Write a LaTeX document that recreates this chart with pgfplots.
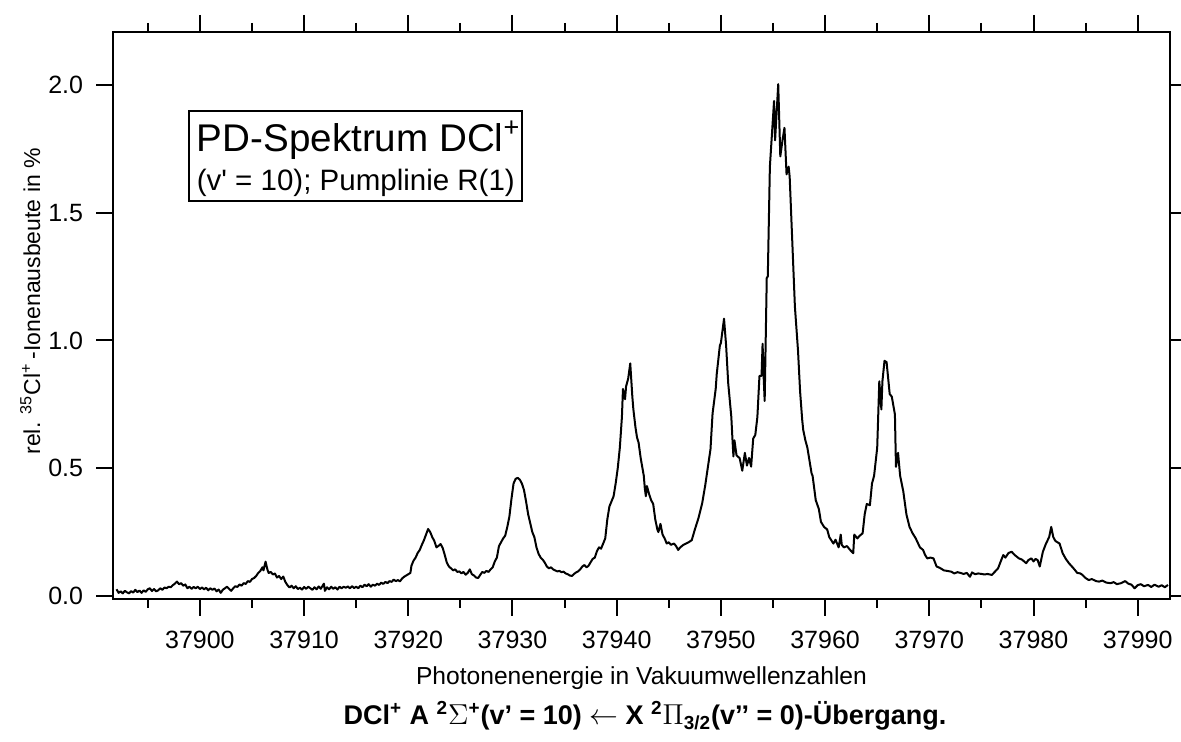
\documentclass[border=0pt]{standalone}
\usepackage{fontspec}
\setmainfont{Liberation Sans}
\usepackage{pgfplots}
\pgfplotsset{compat=1.18}
\begin{document}
\begin{tikzpicture}
\begin{axis}[name=ax, scale only axis, width=528.5pt, height=283.5pt,
  xmin=37891.66, xmax=37993.1, ymin=-0.012, ymax=2.207,
  axis line style={line width=1pt},
  every tick/.style={line width=1pt, black},
  tick align=outside, major tick length=8.5pt, minor tick length=4.5pt,
  xtick={37900,37910,...,37990}, minor xtick={37895,37905,...,37985},
  ytick={0,0.5,1,1.5,2},
  xtick pos=both, ytick pos=both, xticklabel pos=lower, yticklabel pos=left,
  scaled x ticks=false, scaled y ticks=false,
  /pgf/number format/assume math mode=true,
  xticklabel style={/pgf/number format/1000 sep={}, yshift=-4pt},
  yticklabel style={/pgf/number format/.cd, fixed, fixed zerofill, precision=1, /tikz/xshift=-3pt},
  tick label style={font=\fontsize{12.5}{15}\selectfont},
  xlabel={Photonenenergie in Vakuumwellenzahlen},
  ylabel={rel. \textsuperscript{35}Cl\textsuperscript{+}\,-Ionenausbeute in \%},
  every axis x label/.style={at={(axis description cs:0.5,-0.150)}, anchor=base, font=\fontsize{12.3}{14}\selectfont},
  every axis y label/.style={at={(axis description cs:-0.069,0.525)}, anchor=base, rotate=90, font=\fontsize{11.5}{14}\selectfont},
]
\addplot[black, line width=1pt, line join=round] table {
x y
37892.0 0.026
37892.2 0.012
37892.4 0.018
37892.6 0.010
37892.8 0.020
37893.0 0.014
37893.2 0.010
37893.4 0.019
37893.6 0.013
37893.8 0.024
37894.0 0.015
37894.2 0.021
37894.4 0.012
37894.6 0.022
37894.8 0.016
37895.0 0.026
37895.2 0.030
37895.4 0.019
37895.6 0.027
37895.8 0.018
37896.0 0.022
37896.2 0.030
37896.4 0.024
37896.6 0.033
37896.8 0.030
37897.0 0.036
37897.2 0.034
37897.4 0.042
37897.6 0.048
37897.8 0.056
37898.0 0.046
37898.2 0.050
37898.4 0.040
37898.6 0.045
37898.8 0.030
37899.0 0.036
37899.2 0.028
37899.4 0.035
37899.6 0.030
37899.8 0.036
37900.0 0.027
37900.2 0.033
37900.4 0.026
37900.6 0.032
37900.8 0.022
37901.0 0.030
37901.2 0.024
37901.4 0.029
37901.6 0.018
37901.8 0.025
37902.0 0.012
37902.2 0.024
37902.4 0.030
37902.6 0.036
37902.8 0.028
37903.0 0.020
37903.2 0.030
37903.4 0.038
37903.6 0.035
37903.8 0.045
37904.0 0.040
37904.2 0.050
37904.4 0.047
37904.6 0.058
37904.8 0.055
37905.0 0.066
37905.2 0.070
37905.4 0.078
37905.6 0.090
37905.8 0.098
37906.0 0.112
37906.1 0.100
37906.3 0.134
37906.5 0.100
37906.6 0.090
37906.8 0.094
37907.0 0.084
37907.2 0.088
37907.4 0.072
37907.6 0.078
37907.8 0.066
37908.0 0.076
37908.2 0.055
37908.4 0.042
37908.6 0.033
37908.8 0.040
37909.0 0.030
37909.2 0.038
37909.4 0.027
37909.6 0.032
37909.8 0.025
37910.0 0.035
37910.2 0.028
37910.4 0.036
37910.6 0.030
37910.8 0.024
37911.0 0.034
37911.2 0.026
37911.4 0.037
37911.6 0.028
37911.9 0.048
37912.0 0.020
37912.2 0.034
37912.4 0.026
37912.6 0.036
37912.8 0.028
37913.0 0.034
37913.2 0.025
37913.4 0.036
37913.6 0.030
37913.8 0.036
37914.0 0.032
37914.2 0.037
37914.4 0.030
37914.6 0.038
37914.8 0.031
37915.0 0.036
37915.2 0.030
37915.4 0.040
37915.6 0.034
37915.8 0.044
37916.0 0.038
37916.2 0.046
37916.4 0.036
37916.6 0.044
37916.8 0.040
37917.0 0.048
37917.2 0.043
37917.4 0.052
37917.6 0.047
37917.8 0.055
37918.0 0.050
37918.2 0.058
37918.4 0.055
37918.6 0.064
37918.8 0.058
37919.0 0.062
37919.2 0.057
37919.4 0.068
37919.6 0.075
37919.8 0.080
37920.0 0.085
37920.2 0.090
37920.3 0.118
37920.5 0.138
37920.7 0.150
37920.9 0.168
37921.1 0.180
37921.3 0.200
37921.5 0.218
37921.7 0.240
37921.9 0.262
37922.1 0.250
37922.3 0.230
37922.5 0.215
37922.7 0.190
37922.9 0.196
37923.1 0.203
37923.3 0.188
37923.5 0.160
37923.7 0.130
37923.9 0.115
37924.1 0.108
37924.3 0.100
37924.5 0.104
37924.7 0.094
37924.9 0.096
37925.1 0.088
37925.3 0.094
37925.5 0.083
37925.7 0.090
37925.9 0.104
37926.1 0.085
37926.3 0.080
37926.5 0.072
37926.7 0.070
37926.9 0.082
37927.1 0.094
37927.3 0.090
37927.5 0.098
37927.7 0.094
37927.9 0.104
37928.1 0.112
37928.3 0.135
37928.5 0.150
37928.7 0.195
37928.9 0.210
37929.1 0.225
37929.3 0.236
37929.5 0.270
37929.7 0.310
37929.9 0.380
37930.1 0.440
37930.3 0.458
37930.5 0.462
37930.7 0.455
37930.9 0.440
37931.1 0.415
37931.3 0.370
37931.5 0.320
37931.7 0.285
37931.9 0.250
37932.1 0.230
37932.3 0.190
37932.5 0.165
37932.7 0.150
37932.9 0.142
37933.1 0.130
37933.3 0.115
37933.5 0.108
37933.7 0.112
37933.9 0.104
37934.1 0.100
37934.3 0.096
37934.5 0.098
37934.7 0.093
37934.9 0.095
37935.1 0.088
37935.3 0.085
37935.5 0.080
37935.7 0.078
37935.9 0.086
37936.1 0.092
37936.3 0.096
37936.5 0.104
37936.7 0.115
37936.9 0.121
37937.1 0.112
37937.3 0.118
37937.5 0.132
37937.7 0.145
37937.9 0.150
37938.1 0.175
37938.3 0.190
37938.5 0.185
37938.7 0.205
37938.9 0.225
37939.1 0.300
37939.3 0.350
37939.5 0.370
37939.7 0.390
37939.9 0.440
37940.1 0.500
37940.3 0.580
37940.5 0.700
37940.6 0.810
37940.8 0.770
37940.9 0.820
37941.1 0.850
37941.3 0.910
37941.5 0.780
37941.6 0.730
37941.8 0.660
37941.95 0.620
37942.1 0.600
37942.3 0.540
37942.6 0.470
37942.7 0.420
37942.8 0.390
37942.9 0.430
37943.1 0.400
37943.3 0.375
37943.5 0.360
37943.7 0.300
37943.9 0.260
37944.0 0.250
37944.2 0.282
37944.4 0.240
37944.6 0.225
37944.8 0.205
37945.0 0.210
37945.2 0.200
37945.5 0.205
37945.7 0.195
37945.9 0.180
37946.1 0.190
37946.4 0.200
37946.6 0.204
37946.9 0.210
37947.2 0.218
37947.5 0.260
37947.85 0.305
37948.2 0.362
37948.5 0.434
37948.7 0.490
37949.0 0.574
37949.2 0.714
37949.5 0.810
37949.6 0.868
37949.9 0.980
37950.0 0.990
37950.3 1.085
37950.5 0.980
37950.7 0.833
37951.0 0.700
37951.1 0.620
37951.2 0.546
37951.3 0.609
37951.5 0.550
37951.8 0.539
37952.05 0.490
37952.3 0.560
37952.5 0.510
37952.7 0.540
37952.9 0.506
37953.1 0.616
37953.3 0.630
37953.5 0.700
37953.7 0.861
37953.9 0.861
37954.0 0.987
37954.1 0.860
37954.2 0.763
37954.4 1.245
37954.5 1.250
37954.7 1.680
37955.1 1.937
37955.2 1.783
37955.5 2.003
37955.7 1.720
37955.9 1.780
37956.1 1.832
37956.3 1.650
37956.5 1.680
37956.6 1.640
37957.1 1.133
37957.4 0.960
37957.6 0.800
37957.8 0.690
37957.9 0.650
37958.1 0.610
37958.3 0.580
37958.7 0.480
37958.8 0.470
37959.1 0.375
37959.4 0.340
37959.6 0.290
37959.9 0.270
37960.2 0.260
37960.4 0.230
37960.8 0.205
37961.0 0.220
37961.3 0.190
37961.5 0.240
37961.6 0.200
37961.8 0.190
37962.1 0.195
37962.4 0.180
37962.7 0.167
37962.8 0.240
37963.1 0.225
37963.3 0.235
37963.6 0.245
37963.8 0.320
37964.0 0.360
37964.3 0.355
37964.5 0.440
37964.7 0.470
37965.0 0.580
37965.2 0.840
37965.4 0.730
37965.5 0.840
37965.7 0.920
37965.9 0.915
37966.2 0.790
37966.4 0.780
37966.7 0.710
37966.8 0.505
37967.0 0.560
37967.2 0.470
37967.5 0.410
37967.8 0.320
37968.1 0.270
37968.4 0.245
37968.7 0.225
37969.1 0.190
37969.4 0.180
37969.6 0.160
37969.8 0.147
37970.1 0.150
37970.4 0.147
37970.7 0.115
37971.0 0.110
37971.4 0.100
37971.7 0.098
37972.1 0.095
37972.4 0.088
37972.7 0.093
37973.0 0.090
37973.3 0.086
37973.6 0.090
37973.9 0.075
37974.1 0.092
37974.4 0.085
37974.7 0.088
37975.0 0.086
37975.3 0.084
37975.6 0.086
37976.0 0.082
37976.3 0.095
37976.6 0.108
37976.9 0.140
37977.1 0.160
37977.3 0.150
37977.6 0.168
37977.9 0.173
37978.2 0.160
37978.6 0.147
37978.9 0.142
37979.3 0.128
37979.5 0.140
37979.8 0.147
37980.0 0.135
37980.2 0.145
37980.4 0.140
37980.6 0.115
37980.9 0.173
37981.2 0.205
37981.5 0.230
37981.7 0.270
37981.9 0.230
37982.1 0.215
37982.3 0.210
37982.5 0.205
37982.8 0.167
37983.1 0.145
37983.4 0.128
37983.8 0.110
37984.2 0.090
37984.5 0.088
37984.7 0.082
37985.0 0.070
37985.3 0.062
37985.6 0.066
37986.0 0.058
37986.3 0.056
37986.6 0.060
37987.0 0.052
37987.4 0.050
37987.7 0.054
37988.0 0.046
37988.4 0.050
37988.8 0.058
37989.1 0.048
37989.4 0.044
37989.7 0.030
37990.0 0.042
37990.3 0.046
37990.6 0.038
37991.0 0.043
37991.3 0.035
37991.6 0.044
37992.0 0.036
37992.3 0.042
37992.6 0.034
37992.9 0.043
};
\draw[line width=1pt] (axis cs:37898.97,1.898) rectangle (axis cs:37930.93,1.546);
\node[anchor=base west, inner sep=0pt, font=\fontsize{19.3}{22}\selectfont] at (axis cs:37899.67,1.739) {PD-Spektrum DCl\textsuperscript{+}};
\node[anchor=base west, inner sep=0pt, font=\fontsize{14.75}{17}\selectfont] at (axis cs:37899.67,1.586) {(v\textquotesingle{} = 10); Pumplinie R(1)};
\end{axis}
\node[anchor=center, font=\bfseries\fontsize{13.5}{16}\selectfont] at ([xshift=1.75pt, yshift=-58.5pt]ax.south)
  {DCl\textsuperscript{+} A \textsuperscript{2}$\Sigma$\textsuperscript{+}(v’ = 10) $\leftarrow$ X \textsuperscript{2}$\Pi$\textsubscript{3/2}(v’’ = 0)-Übergang.};
\pgfresetboundingbox
\path[use as bounding box] ([shift={(-56.5pt,-71.5pt)}]ax.south west) rectangle ([shift={(5.5pt,16pt)}]ax.north east);
\end{tikzpicture}
\end{document}
